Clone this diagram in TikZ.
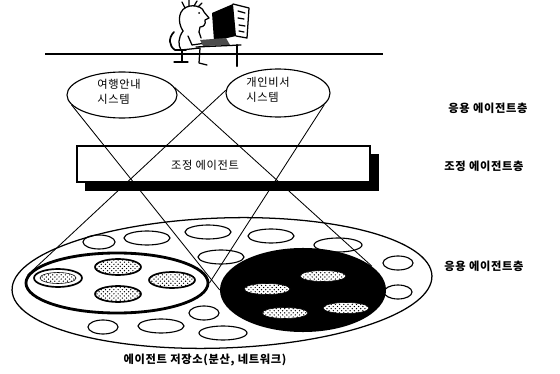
\documentclass[tikz,border=0pt]{standalone}
\usepackage{fontspec}
\newfontfamily\kr[LetterSpace=6]{Noto Sans CJK KR}
\usetikzlibrary{shapes.geometric, patterns, positioning}

\begin{document}
\begin{tikzpicture}[x=0.025cm, y=-0.025cm,
  font=\kr\fontsize{8}{11}\selectfont,
  sysell/.style={ellipse, draw, line width=0.8pt, inner sep=0pt},
  layer/.style={font=\kr\bfseries\fontsize{8}{10}\selectfont},
  slot/.style={line width=0.8pt},
  ray/.style={line width=0.6pt}]

  \useasboundingbox (0,0) rectangle (560,374);

  % 책상 위 사용자와 단말기
  \draw[line width=1.6pt] (45,54) -- (383,54);
  \begin{scope}[line width=0.9pt, line join=round, line cap=round]
    \draw (183,31) .. controls (177,22) and (178,8) .. (190,6)
      .. controls (198,5) and (203,8) .. (204,12) -- (209,18) -- (205,20)
      .. controls (206,24) and (204,27) .. (200,27) -- (199,32);
    \draw (185,8) -- (182,2) (189,6) -- (189,0) (194,6) -- (197,1) (198,7) -- (202,3);
    \fill (199,13) circle [radius=1];
    \draw (183,31) .. controls (178,38) and (178,45) .. (181,50);
    \draw (199,32) -- (201,38);
    \draw (188,36) -- (192,45) -- (206,43);
    \draw[line width=1.2pt] (174,32) .. controls (168,38) and (169,46) .. (175,50) -- (186,50);
    \draw (182,50) -- (182,62) -- (174,62) (182,62) -- (188,62);
    \draw (181,50) -- (200,48) -- (199,63) -- (207,65);
    % 모니터와 키보드
    \fill (212,13) -- (233,4) -- (236,36) -- (214,41) -- cycle;
    \draw (233,4) -- (249,8) -- (247,38) -- (236,36);
    \draw (238,11) -- (245,13) (238,18) -- (244,19) (239,25) -- (245,26) (239,31) -- (244,32);
    \fill[black!70] (200,40) -- (226,38) -- (230,45) -- (203,46) -- cycle;
    \draw (196,47) -- (241,45);
    \draw[line width=1.5pt] (237,45) -- (237,66);
  \end{scope}

  % 응용 시스템
  \node[sysell, minimum width=2.75cm, minimum height=1.15cm] (trav) at (122,95) {};
  \node[align=left] (travtxt) at (119,92) {여행안내\\시스템};
  \node[sysell, minimum width=2.6cm, minimum height=1.2cm] (pers) at (278,93) {};
  \node[align=left] (perstxt) at (268,90) {개인비서\\시스템};

  % 조정 에이전트 (그림자 박스)
  \fill (85,154) rectangle (379,191);
  \node[draw, fill=white, line width=0.8pt, inner sep=0pt,
        minimum width=7.325cm, minimum height=0.9cm] (coord) at (223.5,164) {};
  \node (coordtxt) at (205,165) {조정 에이전트};

  % 에이전트 저장소
  \node[ellipse, draw, line width=0.9pt, inner sep=0pt,
        minimum width=10.5cm, minimum height=3.25cm, rotate=2] (store) at (222,283) {};
  \foreach \x/\y/\a in {99/242/16, 147/238/23, 208/232/23, 271/236/23, 338/245/24,
                        398/263/15, 398/292/14, 221/257/23, 204/313/15,
                        103/327/15, 161/326/23, 223/333/24}
    \draw[slot] (\x,\y) ellipse [x radius=\a, y radius=7];

  \node[ellipse, draw, line width=2pt, fill=white, inner sep=0pt,
        minimum width=4.55cm, minimum height=1.5cm] (pcluster) at (117,283) {};
  \draw[line width=1.2pt] (58,278) ellipse [x radius=24, y radius=9];
  \draw[pattern=crosshatch dots] (58,278) ellipse [x radius=18, y radius=5.5];
  \foreach \x/\y in {118/267, 172/280, 118/294}
    \draw[line width=1.2pt, pattern=crosshatch dots] (\x,\y) ellipse [x radius=23, y radius=8];

  \node[ellipse, fill=black, inner sep=0pt,
        minimum width=4.15cm, minimum height=2.1cm] (tcluster) at (303,290) {};
  \foreach \x/\y in {323/276, 267/289, 285/313, 346/308}
    \draw[fill=white, postaction={pattern=crosshatch dots}] (\x,\y) ellipse [x radius=23, y radius=5.5];

  % 시스템에서 에이전트 집합으로
  \draw[ray] (trav.191) -- (tcluster.west);
  \draw[ray] (trav.8) -- (tcluster.19);
  \draw[ray] (pers.177) -- (pcluster.175);
  \draw[ray] (pers.346) -- (pcluster.east);

  % 층 이름
  \node[layer] (lapp) at (488,108) {응용 에이전트층};
  \node[layer] (lcoord) at (484,166) {조정 에이전트층};
  \node[layer] (lstore) at (484,266) {응용 에이전트층};
  \node[layer] (repo) at (205,360) {에이전트 저장소(분산, 네트워크)};
\end{tikzpicture}
\end{document}
